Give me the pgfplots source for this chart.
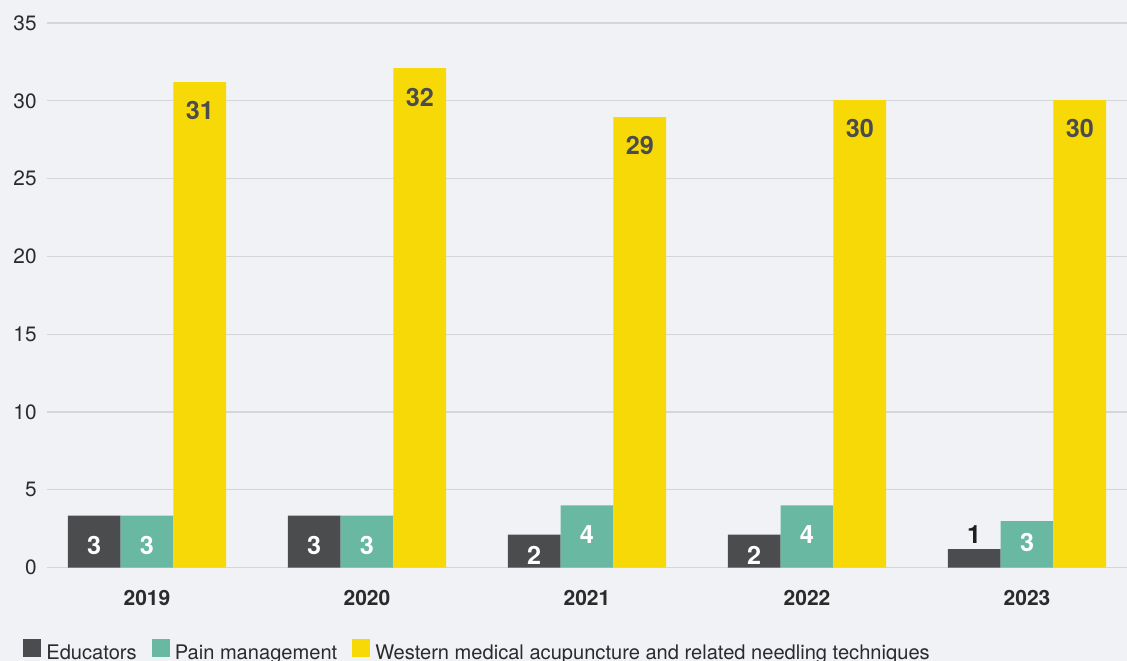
\documentclass[border=0pt]{standalone}
\usepackage{fontspec}
\setmainfont{TeX Gyre Heros}
\usepackage{pgfplots}
\pgfplotsset{compat=1.18}
\usepackage{pgfplotstable}
\usetikzlibrary{backgrounds}
\definecolor{bg}{HTML}{F1F2F6}
\definecolor{gridc}{HTML}{D5D6DA}
\definecolor{edu}{HTML}{4B4C4E}
\definecolor{pain}{HTML}{69B8A2}
\definecolor{wma}{HTML}{F7D908}
\definecolor{txt}{HTML}{2B2B2B}

% bar heights
\pgfplotstableread{
x edu pain wma
0 3.35 3.35 31.2
1 3.35 3.35 32.1
2 2.12 4.00 28.95
3 2.12 4.00 30.05
4 1.20 3.00 30.05
}\bars

% label positions (centre of label, data units) and label text
\pgfplotstableread{
x y l
0 1.40 3
1 1.40 3
2 0.82 2
3 0.82 2
}\labedu
\pgfplotstableread{
x y l
4 2.10 1
}\labeduout
\pgfplotstableread{
x y l
0 1.40 3
1 1.40 3
2 2.12 4
3 2.12 4
4 1.59 3
}\labpain
\pgfplotstableread{
x y l
0 29.35 31
1 30.20 32
2 27.15 29
3 28.20 30
4 28.20 30
}\labwma

\begin{document}
\begin{tikzpicture}
\begin{axis}[
  width=540pt, height=272.35pt, scale only axis,
  xmin=-0.4545, xmax=4.4545, ymin=0, ymax=35,
  enlargelimits=false,
  clip=false,
  ybar, bar width=0.24,
  axis line style={draw=none},
  major tick length=0pt,
  ytick={0,5,...,35},
  xtick={0,1,2,3,4},
  xticklabels={2019,2020,2021,2022,2023},
  ymajorgrids,
  grid style={color=gridc, line width=0.6pt},
  /pgf/number format/assume math mode=true,
  yticklabel style={font=\fontsize{10.4}{12}\selectfont, text=txt, anchor=east, inner sep=0pt},
  yticklabel shift=5pt,
  xticklabel style={font=\fontsize{10.5}{12}\selectfont\bfseries, text=txt, anchor=north, inner sep=0pt},
  xticklabel shift=11pt,
  legend columns=-1,
  legend style={draw=none, fill=none, at={(-0.0222,-0.1525)}, anchor=west,
    font=\fontsize{10.05}{12}\selectfont, text=txt, inner sep=0pt,
    nodes={inner sep=0pt},
    /tikz/every odd column/.append style={column sep=2.5pt},
    /tikz/every even column/.append style={column sep=7.5pt}},
  legend image code/.code={\fill[#1,draw=none] (0pt,-2pt) rectangle (9pt,7pt);},
  nodes near coords style={anchor=center, font=\fontsize{12.6}{14}\selectfont\bfseries},
]
\addplot[fill=edu, draw=none, bar shift=-0.24] table[x=x, y=edu] {\bars};
\addlegendentry{Educators}
\addplot[fill=pain, draw=none, bar shift=0] table[x=x, y=pain] {\bars};
\addlegendentry{Pain management}
\addplot[fill=wma, draw=none, bar shift=0.24] table[x=x, y=wma] {\bars};
\addlegendentry{Western medical acupuncture and related needling techniques}

\addplot[draw=none, fill=none, forget plot, bar shift=-0.24, point meta=explicit symbolic,
  nodes near coords, every node near coord/.append style={text=white, anchor=center}]
  table[x=x, y=y, meta=l] {\labedu};
\addplot[draw=none, fill=none, forget plot, bar shift=-0.24, point meta=explicit symbolic,
  nodes near coords, every node near coord/.append style={text=black!88, anchor=center}]
  table[x=x, y=y, meta=l] {\labeduout};
\addplot[draw=none, fill=none, forget plot, bar shift=0, point meta=explicit symbolic,
  nodes near coords, every node near coord/.append style={text=white, anchor=center}]
  table[x=x, y=y, meta=l] {\labpain};
\addplot[draw=none, fill=none, forget plot, bar shift=0.24, point meta=explicit symbolic,
  nodes near coords, every node near coord/.append style={text=edu, anchor=center}]
  table[x=x, y=y, meta=l] {\labwma};

\coordinate (bl) at (rel axis cs:-0.0435,-0.1713);
\coordinate (tr) at (rel axis cs:1,1.0422);
\end{axis}
\pgfresetboundingbox
\path[use as bounding box] (bl) rectangle (tr);
\begin{pgfonlayer}{background}
\fill[bg] (bl) rectangle (tr);
\end{pgfonlayer}
\end{tikzpicture}
\end{document}
